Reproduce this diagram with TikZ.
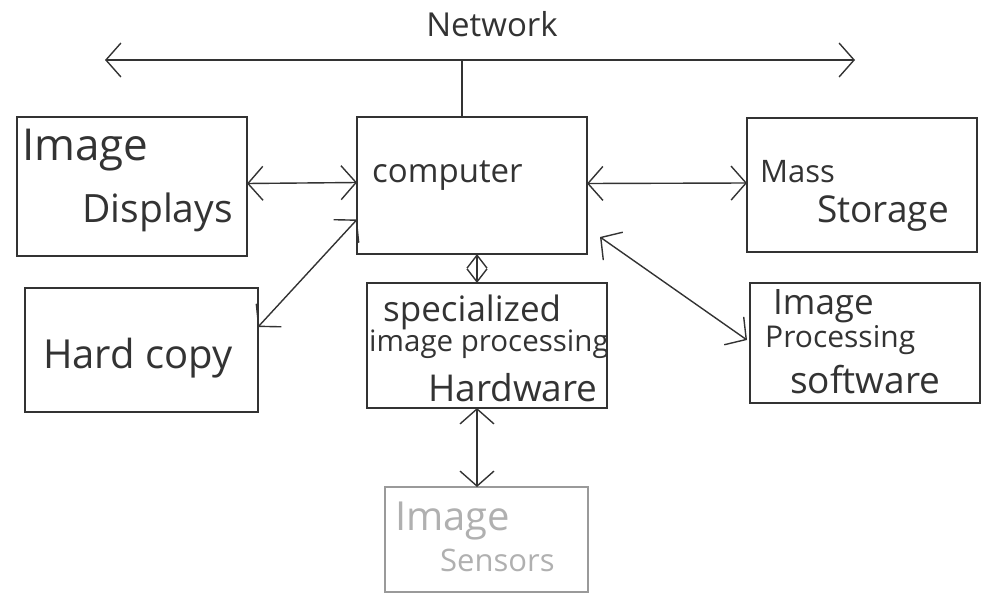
\documentclass[tikz,border=0pt]{standalone}
\usepackage{fontspec}
\setmainfont{Open Sans}
\usetikzlibrary{arrows.meta}
\definecolor{ink}{HTML}{333333}
\definecolor{paleink}{HTML}{9A9A9A}
\definecolor{paletext}{HTML}{B0B0B0}
\tikzset{
  unit/.style={draw=ink, line width=1.4pt, inner sep=0pt, outer sep=0pt},
  faint/.style={draw=paleink, line width=1.1pt, inner sep=0pt, outer sep=0pt},
  lbl/.style={text=ink, inner sep=0pt, anchor=west},
  barb/.tip={Straight Barb[length=15pt,width=34pt,line width=1.4pt]},
  link/.style={draw=ink, line width=1.4pt, barb-barb},
  fs/.style={font=\fontsize{#1}{#1}\selectfont}
}
\begin{document}
\begin{tikzpicture}[x=1pt,y=-1pt]
\useasboundingbox (0,0) rectangle (986,594);

% component boxes
\node[unit, minimum width=230pt, minimum height=139pt] (disp) at (132,186.5) {};
\node[unit, minimum width=233pt, minimum height=124pt] (hard) at (141.5,350) {};
\node[unit, minimum width=230pt, minimum height=137pt] (comp) at (472,185.5) {};
\node[unit, minimum width=240pt, minimum height=125pt] (spec) at (487,345.5) {};
\node[unit, minimum width=230pt, minimum height=134pt] (mass) at (862,185) {};
\node[unit, minimum width=230pt, minimum height=120pt] (soft) at (865,343) {};
\node[faint, minimum width=203pt, minimum height=105pt] (sens) at (486.5,539.5) {};

% labels
\node[lbl, fs=44] (dispA) at (22,150) {Image};
\node[lbl, fs=39] (dispB) at (82,212) {Displays};
\node[lbl, fs=40] (hardA) at (43,358) {Hard copy};
\node[lbl, fs=33] (compA) at (372,176) {computer};
\node[lbl, fs=35] (specA) at (383,312) {specialized};
\node[lbl, fs=29.5] (specB) at (369,344) {image processing};
\node[lbl, fs=37] (specC) at (428,388) {Hardware};
\node[lbl, fs=31] (massA) at (760,172) {Mass};
\node[lbl, fs=37] (massB) at (817,214) {Storage};
\node[lbl, fs=35] (softA) at (773,306) {Image};
\node[lbl, fs=30] (softB) at (765,340) {Processing};
\node[lbl, fs=37] (softC) at (790,380) {software};
\node[lbl, fs=40, text=paletext] (sensA) at (395,521) {Image};
\node[lbl, fs=31, text=paletext] (sensB) at (440,560) {Sensors};

% network bus
\coordinate (netL) at (105,60);
\coordinate (netR) at (855,60);
\coordinate (netT) at (462,60);
\node[text=ink, inner sep=0pt, fs=33] (net) at (492,24) {Network};
\draw[link] (netL) -- (netR);
\draw[draw=ink, line width=1.4pt] (comp.north -| netT) -- (netT);

% connections to the computer
\draw[link] ([yshift=3pt]disp.east) -- ([yshift=3pt]comp.west);
\draw[link] ([yshift=23pt]hard.east) -- ([yshift=-34pt]comp.west);
\draw[link] ([yshift=2pt]comp.east) -- ([yshift=2pt]mass.west);
\draw[link] ([shift={(13pt,17pt)}]comp.south east) -- ([shift={(-3pt,3pt)}]soft.west);
\draw[draw=ink, line width=1.4pt, {Straight Barb[length=13pt,width=20pt,line width=1.4pt]}-{Straight Barb[length=13pt,width=20pt,line width=1.4pt]}]
  ([xshift=5pt]comp.south) -- ([xshift=-10pt]spec.north);
\draw[link] ([xshift=-10pt]spec.south) -- ([xshift=-9.5pt]sens.north);
\end{tikzpicture}
\end{document}
